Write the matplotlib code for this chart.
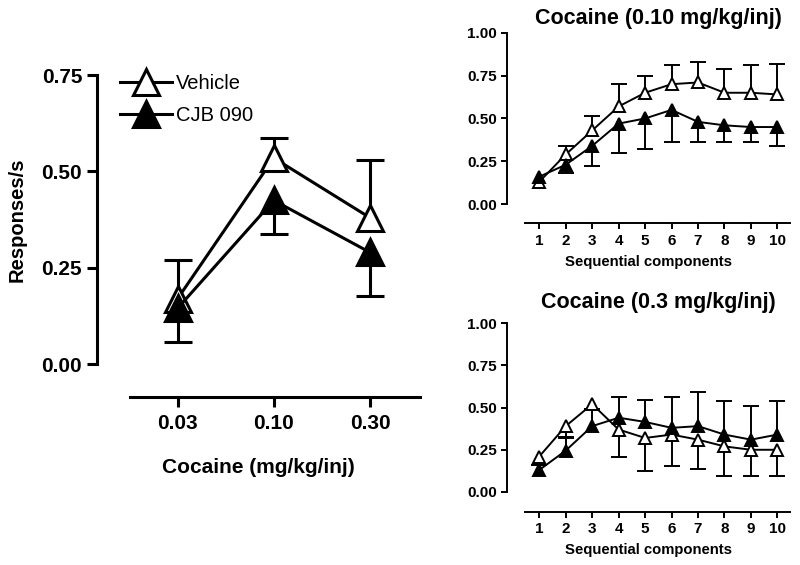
import numpy as np
import matplotlib
matplotlib.use('Agg')
import matplotlib.pyplot as plt

plt.rcParams['font.family'] = ['Liberation Sans', 'DejaVu Sans']

# main panel: dose-response
doses = ['0.03', '0.10', '0.30']
veh_mean = [0.17, 0.535, 0.38]
veh_sem = [0.10, 0.052, 0.15]
cjb_mean = [0.145, 0.425, 0.29]
cjb_sem = [0.088, 0.087, 0.113]

# sequential components (nan = no visible error bar)
comps = [1, 2, 3, 4, 5, 6, 7, 8, 9, 10]
veh_010 = [0.13, 0.29, 0.43, 0.57, 0.65, 0.70, 0.71, 0.65, 0.65, 0.64]
veh_010_sem = [np.nan, 0.05, 0.085, 0.13, 0.10, 0.11, 0.12, 0.14, 0.16, 0.18]
cjb_010 = [0.16, 0.23, 0.34, 0.47, 0.50, 0.55, 0.48, 0.46, 0.45, 0.45]
cjb_010_sem = [np.nan, 0.05, 0.12, 0.17, 0.18, 0.19, 0.12, 0.10, 0.09, 0.11]

veh_03 = [0.21, 0.39, 0.52, 0.37, 0.32, 0.34, 0.31, 0.27, 0.25, 0.25]
veh_03_sem = [0.05, 0.07, 0.03, 0.165, 0.195, 0.185, 0.175, 0.175, 0.155, 0.155]
cjb_03 = [0.13, 0.245, 0.39, 0.44, 0.415, 0.38, 0.39, 0.34, 0.31, 0.34]
cjb_03_sem = [0.03, 0.08, 0.10, 0.12, 0.13, 0.18, 0.20, 0.20, 0.20, 0.20]

fig = plt.figure(figsize=(8, 5.65), dpi=100)


def one_sided(ax, x, y, err, up, ms, lw, cap, face):
    zero = np.zeros(len(err))
    yerr = [zero, err] if up else [err, zero]
    line, caps, bars = ax.errorbar(x, y, yerr=yerr, fmt='-^', color='black',
                                   mfc=face, mec='black', ms=ms, lw=lw,
                                   mew=lw, elinewidth=lw, capsize=cap,
                                   capthick=lw, clip_on=False)
    # hide the caps on the side without error
    caps[0 if up else 1].set_visible(False)
    line.set_zorder(5)
    return line


def style(ax, ylim, ybounds, xbounds, tick_len, tick_w):
    ax.set_ylim(*ylim)
    ax.patch.set_visible(False)
    for s in ['top', 'right']:
        ax.spines[s].set_visible(False)
    ax.spines['left'].set_bounds(*ybounds)
    ax.spines['bottom'].set_bounds(*xbounds)
    ax.spines['left'].set_linewidth(tick_w)
    ax.spines['bottom'].set_linewidth(tick_w)
    ax.tick_params(direction='out', length=tick_len, width=tick_w)


# ---- main panel
ax = fig.add_axes([0.121, 0.297, 0.404, 0.570])
x = np.arange(len(doses))
l1 = one_sided(ax, x, veh_mean, veh_sem, True, 19, 2.2, 10, 'white')
l2 = one_sided(ax, x, cjb_mean, cjb_sem, False, 19, 2.2, 10, 'black')
ax.set_xlim(-0.84, 2.52)
style(ax, (-0.0857, 0.75), (0, 0.75), (-0.5, 2.52), 7, 2.2)
ax.set_yticks([0, 0.25, 0.5, 0.75])
ax.set_yticklabels(['0.00', '0.25', '0.50', '0.75'])
ax.set_xticks(x)
ax.set_xticklabels(doses)
for t in ax.get_xticklabels() + ax.get_yticklabels():
    t.set_fontsize(15)
    t.set_fontweight('bold')
ax.tick_params(axis='x', pad=5)
ax.set_ylabel('Responses/s', fontsize=14.5, fontweight='bold')
ax.yaxis.set_label_coords(-0.218, 0.551)
ax.set_xlabel('Cocaine (mg/kg/inj)', fontsize=15, fontweight='bold', labelpad=18)
ax.legend([l1, l2], ['Vehicle', 'CJB 090'], loc='upper left',
          bbox_to_anchor=(0.015, 1.06), frameon=False, fontsize=14.5,
          handlelength=2.6, handletextpad=0.2, labelspacing=0.65)

# ---- right panels
panels = [
    ([0.634, 0.605, 0.354, 0.337], 'Cocaine (0.10 mg/kg/inj)',
     veh_010, veh_010_sem, True, cjb_010, cjb_010_sem, False, -0.111, 6),
    ([0.634, 0.094, 0.354, 0.334], 'Cocaine (0.3 mg/kg/inj)',
     veh_03, veh_03_sem, False, cjb_03, cjb_03_sem, True, -0.118, 11),
]
for rect, title, vm, vs, vup, cm, cs, cup, ylo, tpad in panels:
    a = fig.add_axes(rect)
    one_sided(a, comps, vm, vs, vup, 9, 1.4, 5.5, 'white')
    one_sided(a, comps, cm, cs, cup, 9, 1.4, 5.5, 'black')
    a.set_xlim(-0.21, 10.49)
    style(a, (ylo, 1.0), (0, 1.0), (0.47, 10.49), 4, 1.4)
    a.set_yticks([0, 0.25, 0.5, 0.75, 1.0])
    a.set_yticklabels(['0.00', '0.25', '0.50', '0.75', '1.00'])
    a.set_xticks(comps)
    for t in a.get_xticklabels() + a.get_yticklabels():
        t.set_fontsize(11)
        t.set_fontweight('bold')
    a.set_xlabel('Sequential components', fontsize=10.7, fontweight='bold', labelpad=5)
    a.set_title(title, fontsize=15.5, fontweight='bold', x=0.534, pad=tpad)

fig.savefig('out.png', dpi=100)
